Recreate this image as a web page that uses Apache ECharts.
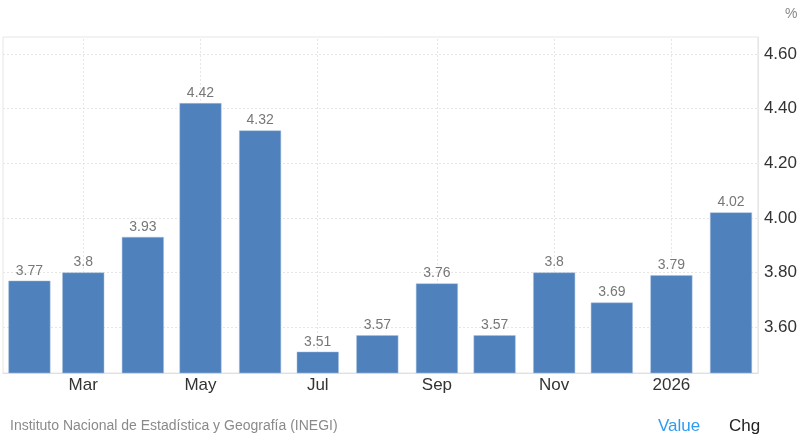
<!DOCTYPE html>
<html><head><meta charset="utf-8">
<script src="https://cdn.jsdelivr.net/npm/echarts@6/dist/echarts.min.js"></script>
<style>html,body{margin:0;padding:0;background:#fff}#c{width:800px;height:438px}</style>
</head><body><div id="c"></div>
<script>
// Months (year, month index) of each bar
const months = [[2025,1],[2025,2],[2025,3],[2025,4],[2025,5],[2025,6],[2025,7],[2025,8],[2025,9],[2025,10],[2025,11],[2026,0],[2026,1]];
const values = [3.77, 3.8, 3.93, 4.42, 4.32, 3.51, 3.57, 3.76, 3.57, 3.8, 3.69, 3.79, 4.02];
const xTickMonths = [[2025,2],[2025,4],[2025,6],[2025,8],[2025,10],[2026,0]];
const xTickLabels = ['Mar', 'May', 'Jul', 'Sep', 'Nov', '2026'];
const yTicks = [3.6, 3.8, 4.0, 4.2, 4.4, 4.6];

// day number since epoch (UTC) of the first day of a month
const dayOf = (ym) => Date.UTC(ym[0], ym[1], 1) / 86400000;
const barData = months.map((m, i) => [dayOf(m), values[i]]);
const xTickVals = xTickMonths.map(dayOf);
const labelFor = {};
xTickVals.forEach((t, i) => { labelFor[t] = xTickLabels[i]; });

const chart = echarts.init(document.getElementById('c'), null, {renderer:'canvas'});
const font = 'Arial, "Liberation Sans", Helvetica, sans-serif';
const gridLine = {color: '#e6e6e6', type: [2, 2], width: 1};
chart.setOption({
  animation: false,
  textStyle: {fontFamily: font},
  grid: {left: 3, right: 40, top: 37, bottom: 65, show: true, borderColor: '#e6e6e6', borderWidth: 1},
  graphic: [
    {type:'text', left: 10, top: 419, style:{text:'Instituto Nacional de Estadística y Geografía (INEGI)', fill:'#8a8a8a', font:'14px '+font}},
    {type:'text', left: 658, top: 418, style:{text:'Value', fill:'#2f9cf0', font:'17px '+font}},
    {type:'text', left: 729, top: 418, style:{text:'Chg', fill:'#222', font:'17px '+font}},
    {type:'text', left: 785, top: 7, style:{text:'%', fill:'#888', font:'14px '+font}}
  ],
  xAxis: {
    type: 'value',
    min: dayOf([2025,1]) - 13.75, max: dayOf([2026,1]) + 14,
    axisLine: {show: true, onZero: false, lineStyle: {color: '#e0e0e0'}},
    axisTick: {show: false, customValues: xTickVals},
    axisLabel: {
      customValues: xTickVals,
      formatter: (v) => labelFor[v] !== undefined ? labelFor[v] : '',
      color: '#333', fontSize: 17, margin: 4
    },
    splitLine: {show: false}
  },
  yAxis: {
    type: 'value', position: 'right', min: 3.432, max: 4.662,
    axisLine: {show: true, lineStyle: {color: '#e6e6e6'}},
    axisTick: {show: false, customValues: yTicks},
    axisLabel: {customValues: yTicks, formatter: (v) => v.toFixed(2), color: '#333', fontSize: 17, margin: 6},
    splitLine: {show: false}
  },
  series: [
    {
      type: 'line', data: [], z: 0, silent: true,
      markLine: {
        silent: true, symbol: 'none', label: {show: false}, lineStyle: gridLine, z: 0,
        data: yTicks.map(v => ({yAxis: v})).concat(xTickVals.map(t => ({xAxis: t})))
      }
    },
    {
      type: 'bar', data: barData, barWidth: 42, z: 2,
      itemStyle: {color: '#4f81bd', borderColor: '#a9c0de', borderWidth: 0.5},
      label: {show: true, position: 'top', color: '#777', fontSize: 14, distance: 3,
              formatter: (p) => String(p.value[1])}
    }
  ]
});
</script></body></html>
